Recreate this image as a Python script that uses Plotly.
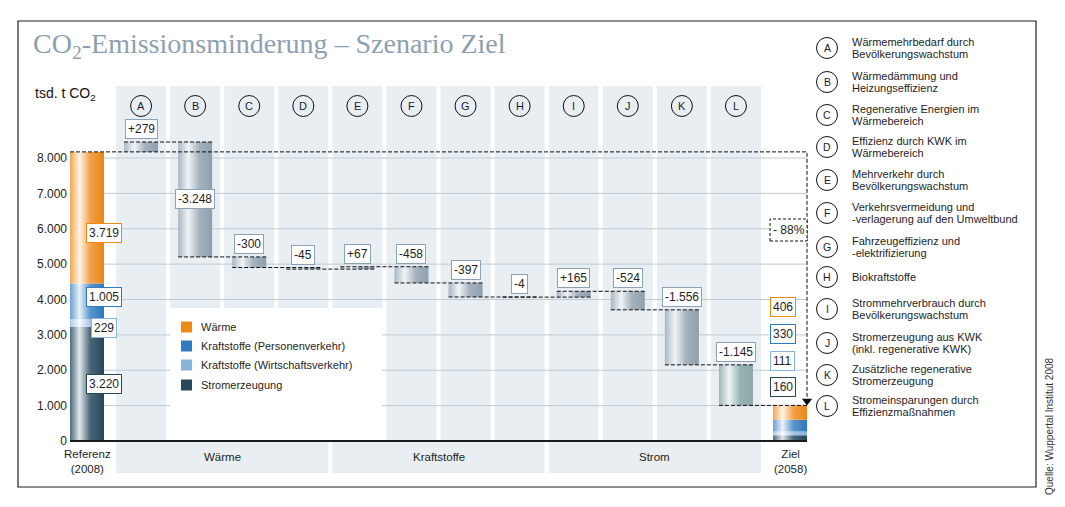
import plotly.graph_objects as go

# ---------------- data ----------------
sectors = ["Wärme", "Kraftstoffe (Personenverkehr)", "Kraftstoffe (Wirtschaftsverkehr)", "Stromerzeugung"]
ref_values = [3719, 1005, 229, 3220]          # Referenz 2008, per sector
ziel_values = [406, 330, 111, 160]            # Ziel 2058, per sector
ref_label = "Referenz<br>(2008)"
ziel_label = "Ziel<br>(2058)"

step_codes = ["A", "B", "C", "D", "E", "F", "G", "H", "I", "J", "K", "L"]
step_values = [279, -3248, -300, -45, 67, -458, -397, -4, 165, -524, -1556, -1145]
step_texts = [
    ["Wärmemehrbedarf durch", "Bevölkerungswachstum"],
    ["Wärmedämmung und", "Heizungseffizienz"],
    ["Regenerative Energien im", "Wärmebereich"],
    ["Effizienz durch KWK im", "Wärmebereich"],
    ["Mehrverkehr durch", "Bevölkerungswachstum"],
    ["Verkehrsvermeidung und", "-verlagerung auf den Umweltbund"],
    ["Fahrzeugeffizienz und", "-elektrifizierung"],
    ["Biokraftstoffe"],
    ["Strommehrverbrauch durch", "Bevölkerungswachstum"],
    ["Stromerzeugung aus KWK", "(inkl. regenerative KWK)"],
    ["Zusätzliche regenerative", "Stromerzeugung"],
    ["Stromeinsparungen durch", "Effizienzmaßnahmen"],
]
groups = ["Wärme", "Kraftstoffe", "Strom"]
group_steps = [["A", "B", "C", "D"], ["E", "F", "G", "H"], ["I", "J", "K", "L"]]
y_ticks = [0, 1000, 2000, 3000, 4000, 5000, 6000, 7000, 8000]

title_text = "CO<sub>2</sub>-Emissionsminderung – Szenario Ziel"
unit_text = "tsd. t CO<sub>2</sub>"
source_text = "Quelle: Wuppertal Institut 2008"

# ---------------- styles / layout constants ----------------
W, H = 1065, 507
PL, PR, PT, PB = 68, 815, 80, 478       # plot area in pixels
X0_PX, X_STEP_PX = 87.0, 54.08           # pixel of category 0, pixel per category
Y0_PX, PX_PER_UNIT = 441.0, 283.0 / 8000 # pixel of value 0, pixel per unit

def xd(px): return (px - X0_PX) / X_STEP_PX
def yd(py): return (Y0_PX - py) / PX_PER_UNIT
def xp(px): return (px - PL) / (PR - PL)
def yp(py): return (PB - py) / (PB - PT)
def dpx(p): return p / PX_PER_UNIT

BAR_HW = 17 / X_STEP_PX
COL_HW = 25 / X_STEP_PX
FONT = "Liberation Sans"
TXT = "#1e1e1e"
sector_colors = ["#ee8a12", "#2e7bbf", "#87b4de", "#26485a"]
sector_scales = [
    [[0, "#f3a552"], [0.28, "#fff4e6"], [0.6, "#f2a04a"], [1, "#ec8712"]],
    [[0, "#6c9fd2"], [0.28, "#eaf2fa"], [0.6, "#5b94cb"], [1, "#2c79bd"]],
    [[0, "#aecbe8"], [0.28, "#f6f9fd"], [0.6, "#a5c5e5"], [1, "#86b3dd"]],
    [[0, "#4f6a7a"], [0.28, "#dfe6ea"], [0.6, "#4a6676"], [1, "#26485a"]],
]
grey_scale = [[0, "#a9b7c3"], [0.3, "#f1f4f6"], [0.62, "#a4b2be"], [1, "#8e9fad"]]
teal_scale = [[0, "#9db6b8"], [0.3, "#eef4f4"], [0.62, "#97b2b3"], [1, "#8aa8aa"]]
BG_COL = "#e9eef2"
GRID_COL = "#bccbd7"
LBL_BORDER = "#8ca1b3"

def de(n, sign=False):
    s = f"{abs(n):,}".replace(",", ".")
    if sign:
        return ("+" if n > 0 else "-") + s
    return ("-" if n < 0 else "") + s

fig = go.Figure()
shapes = []
ann = []

n_steps = len(step_values)
ziel_x = n_steps + 1
ref_total = sum(ref_values)
ziel_total = sum(ziel_values)

# ---------- background columns, group bands, gridlines, legend box ----------
for i in range(1, n_steps + 1):
    shapes.append(dict(type="rect", xref="x", yref="y", layer="below",
                       x0=i - COL_HW, x1=i + COL_HW, y0=0, y1=yd(86),
                       fillcolor=BG_COL, line=dict(width=0)))
for g, members in zip(groups, group_steps):
    idx = [step_codes.index(m) + 1 for m in members]
    shapes.append(dict(type="rect", xref="x", yref="y", layer="below",
                       x0=min(idx) - COL_HW, x1=max(idx) + COL_HW, y0=yd(442), y1=yd(473),
                       fillcolor=BG_COL, line=dict(width=0)))
    ann.append(dict(x=(min(idx) + max(idx)) / 2, y=yd(457), xref="x", yref="y", text=g,
                    showarrow=False, xanchor="center", yanchor="middle",
                    font=dict(family=FONT, size=11.5, color=TXT)))
for t in y_ticks[1:]:
    shapes.append(dict(type="line", xref="x", yref="y", layer="below",
                       x0=-BAR_HW, x1=ziel_x + BAR_HW, y0=t, y1=t,
                       line=dict(color=GRID_COL, width=1)))
# white box behind colour legend
shapes.append(dict(type="rect", xref="x", yref="y", layer="below",
                   x0=xd(170), x1=5 + COL_HW, y0=0, y1=yd(308),
                   fillcolor="white", line=dict(width=0)))

# ---------- bars ----------
def add_bar(xc, lo, hi, scale):
    x = [xc - BAR_HW, xc + BAR_HW, xc + BAR_HW, xc - BAR_HW, xc - BAR_HW]
    y = [lo, lo, hi, hi, lo]
    fig.add_trace(go.Scatter(x=x, y=y, mode="lines", fill="toself",
                             line=dict(width=0, color="rgba(0,0,0,0)"),
                             fillgradient=dict(type="horizontal", colorscale=scale,
                                               start=xc - BAR_HW, stop=xc + BAR_HW),
                             hoverinfo="skip", showlegend=False))

# stacked reference / target (bottom: Strom ... top: Wärme)
for xc, vals in [(0, ref_values), (ziel_x, ziel_values)]:
    base = 0
    for k in reversed(range(len(vals))):
        add_bar(xc, base, base + vals[k], sector_scales[k])
        base += vals[k]

cum = [ref_total]
for v in step_values:
    cum.append(cum[-1] + v)
for i, v in enumerate(step_values):
    lo, hi = sorted([cum[i], cum[i + 1]])
    add_bar(i + 1, lo, hi, teal_scale if step_codes[i] == "L" else grey_scale)

# ---------- dashed connectors ----------
DASH = "4px,2px"
for i in range(n_steps):
    fig.add_trace(go.Scatter(x=[i + 1 - BAR_HW, i + 2 + BAR_HW], y=[cum[i + 1]] * 2,
                             mode="lines", line=dict(color="#111", width=1, dash=DASH),
                             hoverinfo="skip", showlegend=False))
arrow_y = ziel_total + dpx(4.5)
fig.add_trace(go.Scatter(x=[-BAR_HW, ziel_x + BAR_HW, ziel_x + BAR_HW],
                         y=[ref_total, ref_total, arrow_y + dpx(2)],
                         mode="lines", line=dict(color="#111", width=1, dash=DASH),
                         hoverinfo="skip", showlegend=False))
fig.add_trace(go.Scatter(x=[ziel_x + BAR_HW], y=[arrow_y], mode="markers",
                         marker=dict(symbol="triangle-down", size=9, color="#111"),
                         hoverinfo="skip", showlegend=False))

# ---------- value labels ----------
def box(x, y, text, border, yanchor="middle", yshift=0, xshift=0):
    ann.append(dict(x=x, y=y, xref="x", yref="y", text=text, showarrow=False,
                    font=dict(family=FONT, size=12, color=TXT),
                    bgcolor="white", bordercolor=border, borderwidth=1, borderpad=2,
                    xanchor="center", yanchor=yanchor, yshift=yshift, xshift=xshift))

for i, v in enumerate(step_values):
    lo, hi = sorted([cum[i], cum[i + 1]])
    if abs(v) >= 3000:
        box(i + 1, (lo + hi) / 2, de(v, True), LBL_BORDER)
    else:
        box(i + 1, hi, de(v, True), LBL_BORDER, yanchor="bottom", yshift=3)

ref_label_px = [232.5, 297, 327.5, 383.5]
ziel_label_px = [306.5, 333.5, 360.5, 387]
for k in range(len(ref_values)):
    box(0, yd(ref_label_px[k]), de(ref_values[k]), sector_colors[k], xshift=16.5)
    box(ziel_x, yd(ziel_label_px[k]), de(ziel_values[k]), sector_colors[k], xshift=-7.5)

# -88 % box
pct = round(100 * (1 - ziel_total / ref_total))
shapes.append(dict(type="rect", xref="x", yref="y", layer="above",
                   x0=ziel_x + BAR_HW - 37 / X_STEP_PX, x1=ziel_x + BAR_HW,
                   y0=yd(241), y1=yd(219), fillcolor="white",
                   line=dict(color="#111", width=1, dash="3px,2px")))
ann.append(dict(x=ziel_x + BAR_HW - 18.5 / X_STEP_PX, y=yd(230), xref="x", yref="y",
                text=f"- {pct}%", showarrow=False, xanchor="center", yanchor="middle",
                font=dict(family=FONT, size=12, color=TXT)))

# category labels below axis
for xc, lab in [(0, ref_label), (ziel_x, ziel_label)]:
    ann.append(dict(x=xc, y=yd(461.5), xref="x", yref="y", text=lab, showarrow=False,
                    xanchor="center", yanchor="middle",
                    font=dict(family=FONT, size=11.5, color=TXT)))

# axis line
shapes.append(dict(type="line", xref="x", yref="y", layer="above",
                   x0=-BAR_HW, x1=ziel_x + BAR_HW, y0=0, y1=0,
                   line=dict(color="#1a1a1a", width=2.2)))

# step circles on top
for i, c in enumerate(step_codes):
    shapes.append(dict(type="circle", xref="x", yref="y", xsizemode="pixel", ysizemode="pixel",
                       xanchor=i + 1, yanchor=yd(106), x0=-10.5, x1=10.5, y0=-10.5, y1=10.5,
                       line=dict(color="#111", width=1)))
    ann.append(dict(x=i + 1, y=yd(106), xref="x", yref="y", text=c, showarrow=False,
                    xanchor="center", yanchor="middle",
                    font=dict(family=FONT, size=11, color=TXT)))

# colour legend
leg_y = [327, 346, 365, 385]
for k, name in enumerate(sectors):
    shapes.append(dict(type="rect", xref="x", yref="y", layer="above",
                       x0=xd(181), x1=xd(192), y0=yd(leg_y[k] + 5.5), y1=yd(leg_y[k] - 5.5),
                       fillcolor=sector_colors[k], line=dict(width=0)))
    ann.append(dict(x=xd(199), y=yd(leg_y[k]), xref="x", yref="y", text=name, showarrow=False,
                    xanchor="left", yanchor="middle", font=dict(family=FONT, size=11, color=TXT)))

# right-hand explanation list
item_y = [48, 82, 115, 147, 180, 213, 247, 277, 309, 343, 375, 406]
for c, lines, cy in zip(step_codes, step_texts, item_y):
    shapes.append(dict(type="circle", xref="paper", yref="paper", xsizemode="pixel", ysizemode="pixel",
                       xanchor=xp(827), yanchor=yp(cy), x0=-10.5, x1=10.5, y0=-10.5, y1=10.5,
                       line=dict(color="#111", width=1)))
    ann.append(dict(x=xp(827), y=yp(cy), xref="paper", yref="paper", text=c, showarrow=False,
                    xanchor="center", yanchor="middle",
                    font=dict(family=FONT, size=10.5, color=TXT)))
    n = len(lines)
    for j, ln in enumerate(lines):
        ly = cy + (j - (n - 1) / 2) * 11.6
        ann.append(dict(x=xp(850), y=yp(ly), xref="paper", yref="paper", text=ln,
                        showarrow=False, xanchor="left", yanchor="middle",
                        font=dict(family=FONT, size=11, color=TXT)))

# title, unit, source, frame
ann.append(dict(x=xp(31), y=yp(46), xref="paper", yref="paper", text=title_text, showarrow=False,
                xanchor="left", yanchor="middle",
                font=dict(family="Liberation Serif", size=28, color="#8d9fb0")))
ann.append(dict(x=xp(33), y=yp(94), xref="paper", yref="paper", text=unit_text, showarrow=False,
                xanchor="left", yanchor="middle", font=dict(family=FONT, size=14, color="#111")))
ann.append(dict(x=xp(1049), y=yp(426), xref="paper", yref="paper", text=source_text,
                showarrow=False, textangle=-90, xanchor="center", yanchor="middle",
                font=dict(family=FONT, size=10, color="#333")))
shapes.append(dict(type="rect", xref="paper", yref="paper", layer="above",
                   x0=xp(18), x1=xp(1036), y0=yp(487), y1=yp(21),
                   line=dict(color="#222", width=1.2)))

fig.update_layout(
    width=W, height=H, autosize=False,
    margin=dict(l=PL, r=W - PR, t=PT, b=H - PB, pad=0),
    paper_bgcolor="white", plot_bgcolor="white",
    showlegend=False,
    xaxis=dict(range=[xd(PL), xd(PR)], visible=False, fixedrange=True),
    yaxis=dict(range=[yd(PB), yd(PT)], tickvals=y_ticks, ticktext=[de(t) for t in y_ticks],
               showgrid=False, zeroline=False, showline=False, ticks="",
               tickfont=dict(family=FONT, size=12, color="#222"), fixedrange=True),
    shapes=shapes, annotations=ann,
)

fig.write_html("out.html", config={"displayModeBar": False},
               post_script="document.body.style.margin='0px';")
